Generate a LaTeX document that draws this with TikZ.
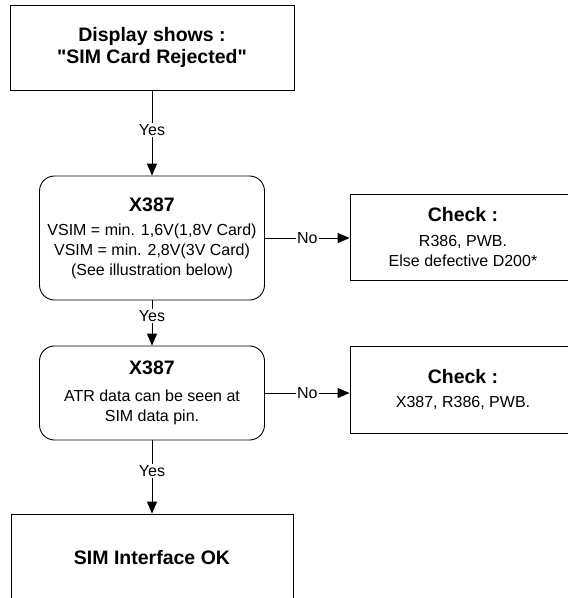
\documentclass[tikz,border=0pt]{standalone}
\usepackage{fontspec}
\setmainfont{Liberation Sans}
\usetikzlibrary{arrows.meta}
\newcommand{\ttl}{\fontsize{19.5}{22}\selectfont\bfseries}

\begin{document}
\begin{tikzpicture}[x=1pt,y=1pt,line width=.9pt,node distance=155pt,
  every node/.style={font=\fontsize{16}{20}\selectfont},
  plainbox/.style={rectangle,draw,align=center,inner sep=0},
  roundbox/.style={rectangle,rounded corners=15pt,draw,align=center,inner sep=0,minimum width=225pt},
  lbl/.style={fill=white,inner sep=1.5pt},
  arr/.style={-{Triangle[length=12pt,width=10pt]}}]

\useasboundingbox (0,0) rectangle (568,-598);
\clip (0,0) rectangle (568,-598);

% Nodes
\node[plainbox,minimum width=284pt,minimum height=85pt,font=\ttl] (disp) at (152,-47.5) {Display shows :\\\textquotedbl SIM Card Rejected\textquotedbl};
\node[roundbox,below of = disp,yshift=-35.5pt,minimum height=124pt] (x1) {{\ttl X387}\\[4pt]VSIM = min. 1,6V(1,8V Card)\\VSIM = min. 2,8V(3V Card)\\(See illustration below)};
\node[plainbox,right of = x1,xshift=156pt,yshift=1pt,minimum width=226pt,minimum height=86pt] (chk1) {{\ttl Check :}\\[5pt]R386, PWB.\\Else defective D200*};
\node[roundbox,below of = x1,minimum height=94pt] (x2) {{\ttl X387}\\[7pt]ATR data can be seen at\\SIM data pin.};
\node[plainbox,right of = x2,xshift=156pt,yshift=3.5pt,minimum width=226pt,minimum height=87pt] (chk2) {{\ttl Check :}\\[4pt]X387, R386, PWB.};
\node[plainbox,below of = x2,yshift=-10pt,minimum width=282pt,minimum height=88pt,font=\ttl] (ok) {SIM Interface OK};

%arcs
\path (disp) edge[arr] node[lbl,pos=.465] {Yes} (x1);
\path (x1) edge[arr] node[lbl,pos=.35] {Yes} (x2);
\path (x2) edge[arr] node[lbl,pos=.42] {Yes} (ok);
\path (x1.east) edge[arr] node[lbl] {No} (x1.east -| chk1.west);
\path (x2.east) edge[arr] node[lbl] {No} (x2.east -| chk2.west);

\end{tikzpicture}
\end{document}
